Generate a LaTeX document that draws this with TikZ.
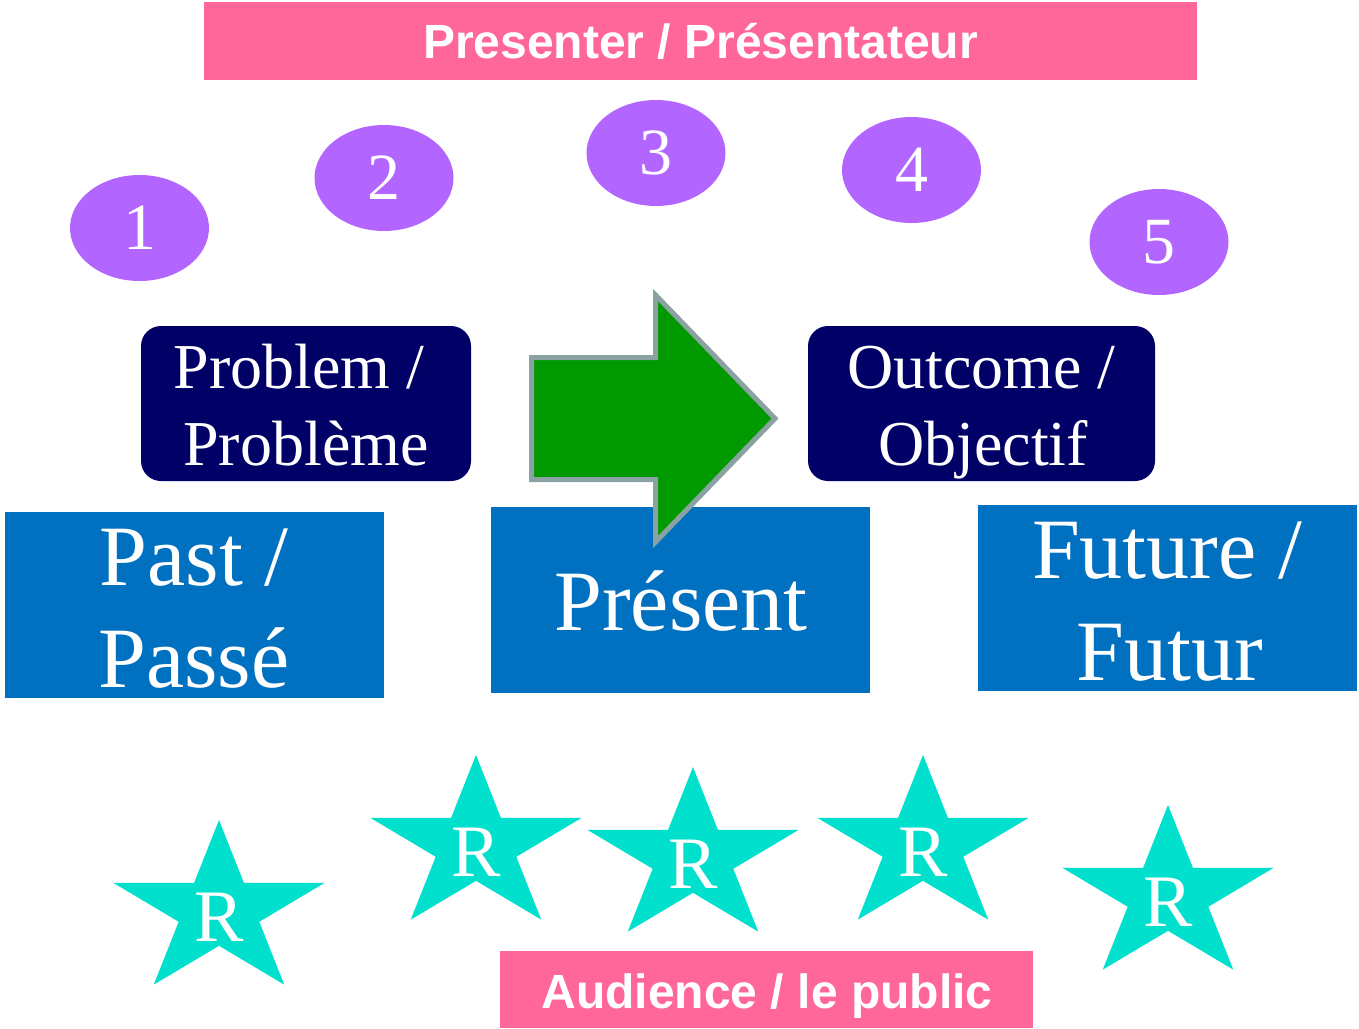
\documentclass[tikz,border=0pt]{standalone}
\usepackage{fontspec}
\setmainfont{Liberation Serif}
\setsansfont{Liberation Sans}
\usetikzlibrary{shapes.geometric,calc}
\definecolor{pinkc}{HTML}{FF6699}
\definecolor{purplec}{HTML}{B366FF}
\definecolor{navyc}{HTML}{000066}
\definecolor{bluec}{HTML}{0070C0}
\definecolor{greenc}{HTML}{009900}
\definecolor{edgec}{HTML}{8AA2A2}
\definecolor{starc}{HTML}{00E0CC}
\tikzset{
  pinkbox/.style={rectangle, fill=pinkc, draw=none, inner sep=0pt},
  navybox/.style={rectangle, rounded corners=10pt, fill=navyc, draw=none, inner sep=0pt, minimum height=77.5pt},
  bluebox/.style={rectangle, fill=bluec, draw=none, inner sep=0pt, minimum width=189.5pt, minimum height=93pt},
  numoval/.style={ellipse, fill=purplec, draw=none, inner sep=0pt, minimum width=69.5pt, minimum height=53pt,
    text=white, font=\fontsize{33}{40}\selectfont},
  headtxt/.style={anchor=base, inner sep=0pt, text=white, font=\sffamily\bfseries\fontsize{24}{29}\selectfont},
  midtxt/.style={anchor=base, inner sep=0pt, text=white, font=\fontsize{32}{38}\selectfont},
  bigtxt/.style={anchor=base, inner sep=0pt, text=white, font=\fontsize{43}{51}\selectfont},
  rtxt/.style={anchor=base, inner sep=0pt, text=white, font=\fontsize{37}{44}\selectfont},
  bigarrow/.style={fill=greenc, draw=edgec, line width=2.5pt, line join=miter},
  starfill/.style={fill=starc, draw=none}
}
\newcommand{\mystar}[2]{%
  \fill[starfill] (#1,#2) +(-90:111 and 91)
    \foreach \k in {0,...,4}{ -- +(-90+72*\k:111 and 91) -- +(-54+72*\k:42.4 and 34.8)} -- cycle;}
\begin{document}
\begin{tikzpicture}[x=0.5pt,y=-0.5pt]
\useasboundingbox (0,0) rectangle (1359,1028);

% headers
\node[pinkbox, minimum width=496.5pt, minimum height=39pt] (presbox) at (700.5,41) {};
\node[headtxt] (prestxt) at (700.5,58) {Presenter / Présentateur};
\node[pinkbox, minimum width=266.5pt, minimum height=38.5pt] (audbox) at (766.5,989.5) {};
\node[headtxt] (audtxt) at (767,1008) {Audience / le public};

% numbered ovals
\node[numoval] (n1) at (139.5,228) {1};
\node[numoval] (n2) at (384,178) {2};
\node[numoval] (n3) at (656,153) {3};
\node[numoval] (n4) at (911.5,170) {4};
\node[numoval] (n5) at (1159,242) {5};

% navy boxes
\node[navybox, minimum width=165pt] (prob) at (306,403.5) {};
\node[midtxt] (probA) at (299,388) {Problem /};
\node[midtxt] (probB) at (306,465) {Problème};
\node[navybox, minimum width=173.5pt] (outc) at (981.5,403.5) {};
\node[midtxt] (outcA) at (981.5,388) {Outcome /};
\node[midtxt] (outcB) at (983,465) {Objectif};

% blue boxes
\node[bluebox] (past) at (194,605) {};
\node[bigtxt] (pastA) at (194,585) {Past /};
\node[bigtxt] (pastB) at (194,687) {Passé};
\node[bluebox] (pres) at (680.5,599.5) {};
\node[bluebox] (fut) at (1167.5,598) {};
\node[bigtxt] (futA) at (1167,578) {Future /};
\node[bigtxt] (futB) at (1170,680) {Futur};

% green arrow
\draw[bigarrow] (531.5,357.5) -- (655.5,357.5) -- (655.5,295) -- (775,418.5) -- (655.5,542) -- (655.5,479.5) -- (531.5,479.5) -- cycle;
\node[bigtxt] (prestx) at (681,630) {Présent};

% stars
\mystar{219}{911}
\mystar{476}{846}
\mystar{693}{858}
\mystar{923}{846}
\mystar{1168}{896}
\node[rtxt] (r1) at (219,941) {R};
\node[rtxt] (r2) at (476,876) {R};
\node[rtxt] (r3) at (693,888) {R};
\node[rtxt] (r4) at (923,876) {R};
\node[rtxt] (r5) at (1168,926) {R};
\end{tikzpicture}
\end{document}
